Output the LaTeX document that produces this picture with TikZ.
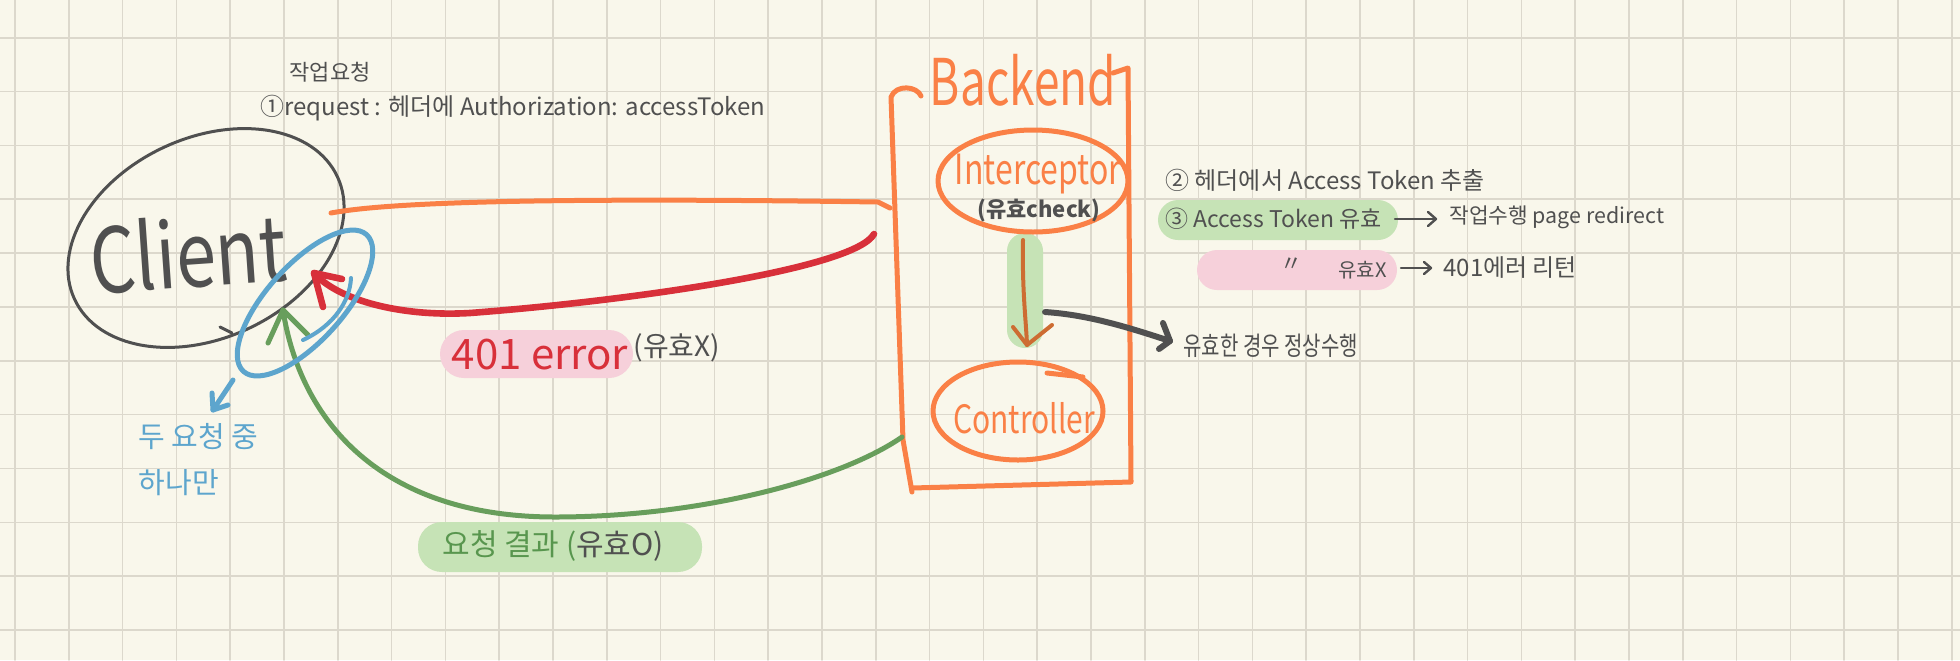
\documentclass[tikz,border=0pt]{standalone}
\usepackage{fontspec}
\setmainfont{Noto Sans CJK KR}
\usepackage{graphicx}
\definecolor{paper}{RGB}{249,247,235}
\definecolor{gridc}{RGB}{220,216,204}
\definecolor{ink}{RGB}{80,80,80}
\definecolor{orng}{RGB}{250,128,70}
\definecolor{redc}{RGB}{216,48,58}
\definecolor{bluec}{RGB}{93,165,205}
\definecolor{greenc}{RGB}{104,158,92}
\definecolor{greentxt}{RGB}{88,150,78}
\definecolor{hlgreen}{RGB}{198,227,182}
\definecolor{hlpink}{RGB}{246,208,218}
\definecolor{brownarr}{RGB}{205,108,50}
\newcommand\FS[1]{\fontsize{#1}{#1}\selectfont}
\newcommand\VS[2]{\scalebox{1}[#1]{#2}}
\begin{document}
\begin{tikzpicture}[x=0.5pt,y=-0.5pt,line cap=round,line join=round,
  txt/.style={inner sep=0pt,text=ink},
  gridline/.style={gridc,line width=0.8pt},
  hlg/.style={fill=hlgreen,draw=none},
  hlp/.style={fill=hlpink,draw=none},
  clientline/.style={ink,line width=1.5pt},
  blueline/.style={bluec,line width=2.5pt},
  orangeline/.style={orng,line width=2.5pt},
  redline/.style={redc,line width=3.3pt},
  greenline/.style={greenc,line width=2.5pt},
  darkline/.style={ink,line width=3pt},
  thinarrow/.style={ink,line width=1.2pt},
  vertarrow/.style={brownarr,line width=2pt}]
\fill[paper] (0,0) rectangle (1960,660);
\useasboundingbox (0,0) rectangle (1960,660);
% grid
\foreach \i in {0,...,36} \draw[gridline] ({15+53.8*\i},0) -- ({15+53.8*\i},660);
\foreach \j in {0,...,11} \draw[gridline] (0,{37.7+53.85*\j}) -- (1960,{37.7+53.85*\j});

% highlights
\fill[hlp,rounded corners=12pt] (440,330) rectangle (633,378);
\fill[hlg,rounded corners=12pt] (418,522) rectangle (702,572);
\fill[hlg,rounded corners=9pt] (1007,233) rectangle (1043,348);
\fill[hlg,rounded corners=10pt] (1158,200) rectangle (1398,240);
\fill[hlp,rounded corners=10pt] (1197,250) rectangle (1397,290);

% top annotation
\node[txt,font=\FS{11pt}] (jakup) at (330,72) {작업요청};
\node[txt,anchor=west,font=\FS{12pt}] (req) at (260,108) {①request : 헤더에 Authorization: accessToken};

% client
\draw[clientline,rotate around={25:(206,238)}] (206,238) ellipse (72.5pt and 50pt);
\draw[clientline] (220,327) -- (232,333);
\node[txt,font=\FS{36pt},rotate=4] (client) at (188,252) {\VS{1.25}{Client}};

% backend box
\draw[orangeline] (1113,73) -- (1128,68) -- (1131,482) -- (912,488);
\draw[orangeline] (921,96) .. controls (917,86) and (896,84) .. (891,97) -- (903,440) -- (912,492);
\node[txt,text=orng,font=\FS{23pt}] (backend) at (1023,80) {\VS{1.4}{Backend}};

% interceptor
\draw[orangeline] (1033,181) ellipse (47.5pt and 25.5pt);
\node[txt,text=orng,font=\FS{16pt}] (interceptor) at (1038,174) {\VS{1.3}{Interceptor}};
\node[txt,font=\bfseries\FS{11pt}] (check) at (1039,210) {(유효check)};

% controller
\draw[orangeline] (1018,411) ellipse (42.5pt and 24.5pt);
\draw[orangeline] (1047,373) -- (1083,377);
\node[txt,text=orng,font=\FS{15pt}] (controller) at (1024,418) {\VS{1.3}{Controller}};

% vertical arrow interceptor -> controller
\coordinate (vA) at (1023,240);
\coordinate (vB) at (1027,345);
\draw[vertarrow] (vA) .. controls (1022,290) and (1026,320) .. (vB);
\draw[vertarrow] (1013,327) -- (vB) -- (1052,325);

% dark arrow to note
\coordinate (dA) at (1045,312);
\coordinate (dB) at (1170,341);
\draw[darkline] (dA) .. controls (1090,315) and (1130,328) .. (dB);
\draw[darkline] (1163,323) -- (dB) -- (1159,349);
\node[txt,anchor=west,font=\FS{10pt}] (valid) at (1183,346) {\VS{1.3}{유효한 경우 정상수행}};

% orange request line
\coordinate (oA) at (331,213);
\coordinate (oB) at (890,208);
\draw[orangeline] (oA) .. controls (400,200) and (600,198) .. (878,202) -- (oB);

% red 401 return
\coordinate (rA) at (874,234);
\coordinate (rB) at (314,273);
\draw[redline] (rA) .. controls (855,268) and (640,300) .. (470,313) .. controls (400,317) and (338,300) .. (rB);
\draw[redline] (342,279) -- (rB) -- (323,307);

% green result
\coordinate (gA) at (902,437);
\coordinate (gB) at (283,310);
\draw[greenline] (gA) .. controls (840,480) and (700,517) .. (555,517) .. controls (380,517) and (300,420) .. (gB);
\draw[greenline] (268,343) -- (gB) -- (308,335);

% blue loop
\draw[blueline,rotate around={48:(305,303)}] (305,303) ellipse (46pt and 19pt);
\draw[bluec,line width=2pt] (351,278) .. controls (350,300) and (335,325) .. (303,340);
\coordinate (bA) at (233,380);
\coordinate (bB) at (213,410);
\draw[blueline] (bA) -- (bB);
\draw[blueline] (212,393) -- (bB) -- (228,405);
\node[txt,text=bluec,font=\FS{14.5pt}] (two) at (198,437) {두 요청 중};
\node[txt,text=bluec,font=\FS{14.5pt}] (one) at (179,483) {하나만};

% labels
\node[txt,text=redc,font=\FS{21pt}] (err) at (540,355) {401 error};
\node[txt,font=\FS{14pt}] (errx) at (677,348) {(유효X)};
\node[txt,anchor=west,font=\FS{15pt}] (res) at (442,546) {\textcolor{greentxt}{요청 결과 (}유효O)};

% right notes
\node[txt,anchor=west,font=\FS{12pt}] (n2) at (1165,180) {② 헤더에서 Access Token 추출};
\node[txt,anchor=west,font=\FS{11.5pt}] (n3) at (1165,219) {③ Access Token 유효};
\coordinate (a3s) at (1395,219);
\coordinate (a3e) at (1436,219);
\draw[thinarrow] (a3s) -- (a3e);
\draw[thinarrow] (1428,212) -- (a3e) -- (1428,226);
\node[txt,anchor=west,font=\FS{10.7pt}] (n3b) at (1449,217) {작업수행 page redirect};
\node[txt,font=\FS{11pt}] (ditto) at (1291,265) {〃};
\node[txt,anchor=west,font=\FS{10pt}] (n4) at (1338,270) {유효X};
\coordinate (a4s) at (1401,268);
\coordinate (a4e) at (1431,268);
\draw[thinarrow] (a4s) -- (a4e);
\draw[thinarrow] (1424,262) -- (a4e) -- (1424,274);
\node[txt,anchor=west,font=\FS{12pt}] (n4b) at (1443,268) {401에러 리턴};
\end{tikzpicture}
\end{document}
